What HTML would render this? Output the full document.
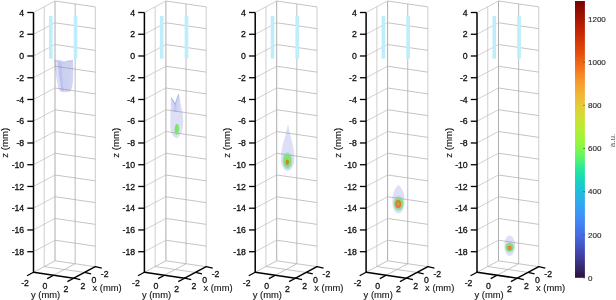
<!DOCTYPE html>
<html><head><meta charset="utf-8"><title>figure</title>
<style>
html,body{margin:0;padding:0;background:#fff;}
body{width:616px;height:300px;overflow:hidden;}
svg{display:block;font-family:"Liberation Sans",Arial,sans-serif;}
</style></head><body>
<svg width="616" height="300" viewBox="0 0 616 300">
<defs><linearGradient id="cb" x1="0" y1="1" x2="0" y2="0"><stop offset="0.0000" stop-color="rgb(46,17,57)"/><stop offset="0.0208" stop-color="rgb(51,29,85)"/><stop offset="0.0417" stop-color="rgb(56,43,117)"/><stop offset="0.0625" stop-color="rgb(59,54,140)"/><stop offset="0.0833" stop-color="rgb(63,67,166)"/><stop offset="0.1042" stop-color="rgb(65,78,184)"/><stop offset="0.1250" stop-color="rgb(67,91,204)"/><stop offset="0.1458" stop-color="rgb(68,104,220)"/><stop offset="0.1667" stop-color="rgb(68,114,230)"/><stop offset="0.1875" stop-color="rgb(67,126,240)"/><stop offset="0.2083" stop-color="rgb(66,136,245)"/><stop offset="0.2292" stop-color="rgb(61,148,246)"/><stop offset="0.2500" stop-color="rgb(56,158,244)"/><stop offset="0.2708" stop-color="rgb(47,170,237)"/><stop offset="0.2917" stop-color="rgb(40,179,230)"/><stop offset="0.3125" stop-color="rgb(32,190,219)"/><stop offset="0.3333" stop-color="rgb(25,203,203)"/><stop offset="0.3542" stop-color="rgb(23,215,186)"/><stop offset="0.3750" stop-color="rgb(29,225,169)"/><stop offset="0.3958" stop-color="rgb(42,232,153)"/><stop offset="0.4167" stop-color="rgb(68,240,127)"/><stop offset="0.4375" stop-color="rgb(94,244,104)"/><stop offset="0.4583" stop-color="rgb(120,246,83)"/><stop offset="0.4792" stop-color="rgb(141,246,68)"/><stop offset="0.5000" stop-color="rgb(159,244,57)"/><stop offset="0.5208" stop-color="rgb(171,241,52)"/><stop offset="0.5417" stop-color="rgb(184,236,50)"/><stop offset="0.5625" stop-color="rgb(199,228,50)"/><stop offset="0.5833" stop-color="rgb(210,220,52)"/><stop offset="0.6042" stop-color="rgb(220,212,54)"/><stop offset="0.6250" stop-color="rgb(230,200,56)"/><stop offset="0.6458" stop-color="rgb(237,190,56)"/><stop offset="0.6667" stop-color="rgb(242,180,54)"/><stop offset="0.6875" stop-color="rgb(245,166,50)"/><stop offset="0.7083" stop-color="rgb(246,153,45)"/><stop offset="0.7292" stop-color="rgb(245,139,39)"/><stop offset="0.7500" stop-color="rgb(243,121,31)"/><stop offset="0.7708" stop-color="rgb(239,107,25)"/><stop offset="0.7917" stop-color="rgb(234,93,19)"/><stop offset="0.8125" stop-color="rgb(227,77,13)"/><stop offset="0.8333" stop-color="rgb(220,66,9)"/><stop offset="0.8542" stop-color="rgb(212,56,7)"/><stop offset="0.8750" stop-color="rgb(201,45,4)"/><stop offset="0.8958" stop-color="rgb(191,37,2)"/><stop offset="0.9167" stop-color="rgb(179,29,1)"/><stop offset="0.9375" stop-color="rgb(164,20,1)"/><stop offset="0.9583" stop-color="rgb(150,14,1)"/><stop offset="0.9792" stop-color="rgb(135,8,1)"/><stop offset="1.0000" stop-color="rgb(118,3,2)"/></linearGradient>
<filter id="bl" x="-20%" y="-20%" width="140%" height="140%"><feGaussianBlur stdDeviation="0.45"/></filter>
</defs>
<rect width="616" height="300" fill="#fff"/>
<g>
<line x1="55.00" y1="260.80" x2="55.00" y2="1.00" stroke="#9e9e9e" stroke-width="0.85" />
<line x1="95.30" y1="266.70" x2="95.30" y2="6.90" stroke="#c6c6c6" stroke-width="0.9" />
<line x1="44.25" y1="266.55" x2="44.25" y2="6.75" stroke="#c6c6c6" stroke-width="0.85" />
<line x1="75.15" y1="263.75" x2="75.15" y2="3.95" stroke="#b0b0b0" stroke-width="0.85" />
<line x1="33.50" y1="251.71" x2="55.00" y2="240.21" stroke="#c0c0c0" stroke-width="0.75" />
<line x1="55.00" y1="240.21" x2="95.30" y2="246.11" stroke="#b0b0b0" stroke-width="0.75" />
<line x1="33.50" y1="229.96" x2="55.00" y2="218.46" stroke="#c0c0c0" stroke-width="0.75" />
<line x1="55.00" y1="218.46" x2="95.30" y2="224.36" stroke="#b0b0b0" stroke-width="0.75" />
<line x1="33.50" y1="208.21" x2="55.00" y2="196.71" stroke="#c0c0c0" stroke-width="0.75" />
<line x1="55.00" y1="196.71" x2="95.30" y2="202.61" stroke="#b0b0b0" stroke-width="0.75" />
<line x1="33.50" y1="186.47" x2="55.00" y2="174.97" stroke="#c0c0c0" stroke-width="0.75" />
<line x1="55.00" y1="174.97" x2="95.30" y2="180.87" stroke="#b0b0b0" stroke-width="0.75" />
<line x1="33.50" y1="164.72" x2="55.00" y2="153.22" stroke="#c0c0c0" stroke-width="0.75" />
<line x1="55.00" y1="153.22" x2="95.30" y2="159.12" stroke="#b0b0b0" stroke-width="0.75" />
<line x1="33.50" y1="142.98" x2="55.00" y2="131.48" stroke="#c0c0c0" stroke-width="0.75" />
<line x1="55.00" y1="131.48" x2="95.30" y2="137.38" stroke="#b0b0b0" stroke-width="0.75" />
<line x1="33.50" y1="121.23" x2="55.00" y2="109.73" stroke="#c0c0c0" stroke-width="0.75" />
<line x1="55.00" y1="109.73" x2="95.30" y2="115.63" stroke="#b0b0b0" stroke-width="0.75" />
<line x1="33.50" y1="99.48" x2="55.00" y2="87.98" stroke="#c0c0c0" stroke-width="0.75" />
<line x1="55.00" y1="87.98" x2="95.30" y2="93.88" stroke="#b0b0b0" stroke-width="0.75" />
<line x1="33.50" y1="77.74" x2="55.00" y2="66.24" stroke="#c0c0c0" stroke-width="0.75" />
<line x1="55.00" y1="66.24" x2="95.30" y2="72.14" stroke="#b0b0b0" stroke-width="0.75" />
<line x1="33.50" y1="55.99" x2="55.00" y2="44.49" stroke="#c0c0c0" stroke-width="0.75" />
<line x1="55.00" y1="44.49" x2="95.30" y2="50.39" stroke="#b0b0b0" stroke-width="0.75" />
<line x1="33.50" y1="34.25" x2="55.00" y2="22.75" stroke="#c0c0c0" stroke-width="0.75" />
<line x1="55.00" y1="22.75" x2="95.30" y2="28.65" stroke="#b0b0b0" stroke-width="0.75" />
<line x1="33.50" y1="12.50" x2="55.00" y2="1.00" stroke="#c0c0c0" stroke-width="0.75" />
<line x1="55.00" y1="1.00" x2="95.30" y2="6.90" stroke="#b0b0b0" stroke-width="0.75" />
<line x1="33.50" y1="272.30" x2="55.00" y2="260.80" stroke="#b0b0b0" stroke-width="0.75" />
<line x1="55.00" y1="260.80" x2="95.30" y2="266.70" stroke="#b0b0b0" stroke-width="0.75" />
<line x1="53.65" y1="275.25" x2="75.15" y2="263.75" stroke="#b0b0b0" stroke-width="0.75" />
<line x1="84.55" y1="272.45" x2="44.25" y2="266.55" stroke="#b0b0b0" stroke-width="0.75" />
</g>
<g>
<line x1="165.90" y1="260.80" x2="165.90" y2="1.00" stroke="#9e9e9e" stroke-width="0.85" />
<line x1="206.20" y1="266.70" x2="206.20" y2="6.90" stroke="#c6c6c6" stroke-width="0.9" />
<line x1="155.15" y1="266.55" x2="155.15" y2="6.75" stroke="#c6c6c6" stroke-width="0.85" />
<line x1="186.05" y1="263.75" x2="186.05" y2="3.95" stroke="#b0b0b0" stroke-width="0.85" />
<line x1="144.40" y1="251.71" x2="165.90" y2="240.21" stroke="#c0c0c0" stroke-width="0.75" />
<line x1="165.90" y1="240.21" x2="206.20" y2="246.11" stroke="#b0b0b0" stroke-width="0.75" />
<line x1="144.40" y1="229.96" x2="165.90" y2="218.46" stroke="#c0c0c0" stroke-width="0.75" />
<line x1="165.90" y1="218.46" x2="206.20" y2="224.36" stroke="#b0b0b0" stroke-width="0.75" />
<line x1="144.40" y1="208.21" x2="165.90" y2="196.71" stroke="#c0c0c0" stroke-width="0.75" />
<line x1="165.90" y1="196.71" x2="206.20" y2="202.61" stroke="#b0b0b0" stroke-width="0.75" />
<line x1="144.40" y1="186.47" x2="165.90" y2="174.97" stroke="#c0c0c0" stroke-width="0.75" />
<line x1="165.90" y1="174.97" x2="206.20" y2="180.87" stroke="#b0b0b0" stroke-width="0.75" />
<line x1="144.40" y1="164.72" x2="165.90" y2="153.22" stroke="#c0c0c0" stroke-width="0.75" />
<line x1="165.90" y1="153.22" x2="206.20" y2="159.12" stroke="#b0b0b0" stroke-width="0.75" />
<line x1="144.40" y1="142.98" x2="165.90" y2="131.48" stroke="#c0c0c0" stroke-width="0.75" />
<line x1="165.90" y1="131.48" x2="206.20" y2="137.38" stroke="#b0b0b0" stroke-width="0.75" />
<line x1="144.40" y1="121.23" x2="165.90" y2="109.73" stroke="#c0c0c0" stroke-width="0.75" />
<line x1="165.90" y1="109.73" x2="206.20" y2="115.63" stroke="#b0b0b0" stroke-width="0.75" />
<line x1="144.40" y1="99.48" x2="165.90" y2="87.98" stroke="#c0c0c0" stroke-width="0.75" />
<line x1="165.90" y1="87.98" x2="206.20" y2="93.88" stroke="#b0b0b0" stroke-width="0.75" />
<line x1="144.40" y1="77.74" x2="165.90" y2="66.24" stroke="#c0c0c0" stroke-width="0.75" />
<line x1="165.90" y1="66.24" x2="206.20" y2="72.14" stroke="#b0b0b0" stroke-width="0.75" />
<line x1="144.40" y1="55.99" x2="165.90" y2="44.49" stroke="#c0c0c0" stroke-width="0.75" />
<line x1="165.90" y1="44.49" x2="206.20" y2="50.39" stroke="#b0b0b0" stroke-width="0.75" />
<line x1="144.40" y1="34.25" x2="165.90" y2="22.75" stroke="#c0c0c0" stroke-width="0.75" />
<line x1="165.90" y1="22.75" x2="206.20" y2="28.65" stroke="#b0b0b0" stroke-width="0.75" />
<line x1="144.40" y1="12.50" x2="165.90" y2="1.00" stroke="#c0c0c0" stroke-width="0.75" />
<line x1="165.90" y1="1.00" x2="206.20" y2="6.90" stroke="#b0b0b0" stroke-width="0.75" />
<line x1="144.40" y1="272.30" x2="165.90" y2="260.80" stroke="#b0b0b0" stroke-width="0.75" />
<line x1="165.90" y1="260.80" x2="206.20" y2="266.70" stroke="#b0b0b0" stroke-width="0.75" />
<line x1="164.55" y1="275.25" x2="186.05" y2="263.75" stroke="#b0b0b0" stroke-width="0.75" />
<line x1="195.45" y1="272.45" x2="155.15" y2="266.55" stroke="#b0b0b0" stroke-width="0.75" />
</g>
<g>
<line x1="276.70" y1="260.80" x2="276.70" y2="1.00" stroke="#9e9e9e" stroke-width="0.85" />
<line x1="317.00" y1="266.70" x2="317.00" y2="6.90" stroke="#c6c6c6" stroke-width="0.9" />
<line x1="265.95" y1="266.55" x2="265.95" y2="6.75" stroke="#c6c6c6" stroke-width="0.85" />
<line x1="296.85" y1="263.75" x2="296.85" y2="3.95" stroke="#b0b0b0" stroke-width="0.85" />
<line x1="255.20" y1="251.71" x2="276.70" y2="240.21" stroke="#c0c0c0" stroke-width="0.75" />
<line x1="276.70" y1="240.21" x2="317.00" y2="246.11" stroke="#b0b0b0" stroke-width="0.75" />
<line x1="255.20" y1="229.96" x2="276.70" y2="218.46" stroke="#c0c0c0" stroke-width="0.75" />
<line x1="276.70" y1="218.46" x2="317.00" y2="224.36" stroke="#b0b0b0" stroke-width="0.75" />
<line x1="255.20" y1="208.21" x2="276.70" y2="196.71" stroke="#c0c0c0" stroke-width="0.75" />
<line x1="276.70" y1="196.71" x2="317.00" y2="202.61" stroke="#b0b0b0" stroke-width="0.75" />
<line x1="255.20" y1="186.47" x2="276.70" y2="174.97" stroke="#c0c0c0" stroke-width="0.75" />
<line x1="276.70" y1="174.97" x2="317.00" y2="180.87" stroke="#b0b0b0" stroke-width="0.75" />
<line x1="255.20" y1="164.72" x2="276.70" y2="153.22" stroke="#c0c0c0" stroke-width="0.75" />
<line x1="276.70" y1="153.22" x2="317.00" y2="159.12" stroke="#b0b0b0" stroke-width="0.75" />
<line x1="255.20" y1="142.98" x2="276.70" y2="131.48" stroke="#c0c0c0" stroke-width="0.75" />
<line x1="276.70" y1="131.48" x2="317.00" y2="137.38" stroke="#b0b0b0" stroke-width="0.75" />
<line x1="255.20" y1="121.23" x2="276.70" y2="109.73" stroke="#c0c0c0" stroke-width="0.75" />
<line x1="276.70" y1="109.73" x2="317.00" y2="115.63" stroke="#b0b0b0" stroke-width="0.75" />
<line x1="255.20" y1="99.48" x2="276.70" y2="87.98" stroke="#c0c0c0" stroke-width="0.75" />
<line x1="276.70" y1="87.98" x2="317.00" y2="93.88" stroke="#b0b0b0" stroke-width="0.75" />
<line x1="255.20" y1="77.74" x2="276.70" y2="66.24" stroke="#c0c0c0" stroke-width="0.75" />
<line x1="276.70" y1="66.24" x2="317.00" y2="72.14" stroke="#b0b0b0" stroke-width="0.75" />
<line x1="255.20" y1="55.99" x2="276.70" y2="44.49" stroke="#c0c0c0" stroke-width="0.75" />
<line x1="276.70" y1="44.49" x2="317.00" y2="50.39" stroke="#b0b0b0" stroke-width="0.75" />
<line x1="255.20" y1="34.25" x2="276.70" y2="22.75" stroke="#c0c0c0" stroke-width="0.75" />
<line x1="276.70" y1="22.75" x2="317.00" y2="28.65" stroke="#b0b0b0" stroke-width="0.75" />
<line x1="255.20" y1="12.50" x2="276.70" y2="1.00" stroke="#c0c0c0" stroke-width="0.75" />
<line x1="276.70" y1="1.00" x2="317.00" y2="6.90" stroke="#b0b0b0" stroke-width="0.75" />
<line x1="255.20" y1="272.30" x2="276.70" y2="260.80" stroke="#b0b0b0" stroke-width="0.75" />
<line x1="276.70" y1="260.80" x2="317.00" y2="266.70" stroke="#b0b0b0" stroke-width="0.75" />
<line x1="275.35" y1="275.25" x2="296.85" y2="263.75" stroke="#b0b0b0" stroke-width="0.75" />
<line x1="306.25" y1="272.45" x2="265.95" y2="266.55" stroke="#b0b0b0" stroke-width="0.75" />
</g>
<g>
<line x1="387.60" y1="260.80" x2="387.60" y2="1.00" stroke="#9e9e9e" stroke-width="0.85" />
<line x1="427.90" y1="266.70" x2="427.90" y2="6.90" stroke="#c6c6c6" stroke-width="0.9" />
<line x1="376.85" y1="266.55" x2="376.85" y2="6.75" stroke="#c6c6c6" stroke-width="0.85" />
<line x1="407.75" y1="263.75" x2="407.75" y2="3.95" stroke="#b0b0b0" stroke-width="0.85" />
<line x1="366.10" y1="251.71" x2="387.60" y2="240.21" stroke="#c0c0c0" stroke-width="0.75" />
<line x1="387.60" y1="240.21" x2="427.90" y2="246.11" stroke="#b0b0b0" stroke-width="0.75" />
<line x1="366.10" y1="229.96" x2="387.60" y2="218.46" stroke="#c0c0c0" stroke-width="0.75" />
<line x1="387.60" y1="218.46" x2="427.90" y2="224.36" stroke="#b0b0b0" stroke-width="0.75" />
<line x1="366.10" y1="208.21" x2="387.60" y2="196.71" stroke="#c0c0c0" stroke-width="0.75" />
<line x1="387.60" y1="196.71" x2="427.90" y2="202.61" stroke="#b0b0b0" stroke-width="0.75" />
<line x1="366.10" y1="186.47" x2="387.60" y2="174.97" stroke="#c0c0c0" stroke-width="0.75" />
<line x1="387.60" y1="174.97" x2="427.90" y2="180.87" stroke="#b0b0b0" stroke-width="0.75" />
<line x1="366.10" y1="164.72" x2="387.60" y2="153.22" stroke="#c0c0c0" stroke-width="0.75" />
<line x1="387.60" y1="153.22" x2="427.90" y2="159.12" stroke="#b0b0b0" stroke-width="0.75" />
<line x1="366.10" y1="142.98" x2="387.60" y2="131.48" stroke="#c0c0c0" stroke-width="0.75" />
<line x1="387.60" y1="131.48" x2="427.90" y2="137.38" stroke="#b0b0b0" stroke-width="0.75" />
<line x1="366.10" y1="121.23" x2="387.60" y2="109.73" stroke="#c0c0c0" stroke-width="0.75" />
<line x1="387.60" y1="109.73" x2="427.90" y2="115.63" stroke="#b0b0b0" stroke-width="0.75" />
<line x1="366.10" y1="99.48" x2="387.60" y2="87.98" stroke="#c0c0c0" stroke-width="0.75" />
<line x1="387.60" y1="87.98" x2="427.90" y2="93.88" stroke="#b0b0b0" stroke-width="0.75" />
<line x1="366.10" y1="77.74" x2="387.60" y2="66.24" stroke="#c0c0c0" stroke-width="0.75" />
<line x1="387.60" y1="66.24" x2="427.90" y2="72.14" stroke="#b0b0b0" stroke-width="0.75" />
<line x1="366.10" y1="55.99" x2="387.60" y2="44.49" stroke="#c0c0c0" stroke-width="0.75" />
<line x1="387.60" y1="44.49" x2="427.90" y2="50.39" stroke="#b0b0b0" stroke-width="0.75" />
<line x1="366.10" y1="34.25" x2="387.60" y2="22.75" stroke="#c0c0c0" stroke-width="0.75" />
<line x1="387.60" y1="22.75" x2="427.90" y2="28.65" stroke="#b0b0b0" stroke-width="0.75" />
<line x1="366.10" y1="12.50" x2="387.60" y2="1.00" stroke="#c0c0c0" stroke-width="0.75" />
<line x1="387.60" y1="1.00" x2="427.90" y2="6.90" stroke="#b0b0b0" stroke-width="0.75" />
<line x1="366.10" y1="272.30" x2="387.60" y2="260.80" stroke="#b0b0b0" stroke-width="0.75" />
<line x1="387.60" y1="260.80" x2="427.90" y2="266.70" stroke="#b0b0b0" stroke-width="0.75" />
<line x1="386.25" y1="275.25" x2="407.75" y2="263.75" stroke="#b0b0b0" stroke-width="0.75" />
<line x1="417.15" y1="272.45" x2="376.85" y2="266.55" stroke="#b0b0b0" stroke-width="0.75" />
</g>
<g>
<line x1="498.50" y1="260.80" x2="498.50" y2="1.00" stroke="#9e9e9e" stroke-width="0.85" />
<line x1="538.80" y1="266.70" x2="538.80" y2="6.90" stroke="#c6c6c6" stroke-width="0.9" />
<line x1="487.75" y1="266.55" x2="487.75" y2="6.75" stroke="#c6c6c6" stroke-width="0.85" />
<line x1="518.65" y1="263.75" x2="518.65" y2="3.95" stroke="#b0b0b0" stroke-width="0.85" />
<line x1="477.00" y1="251.71" x2="498.50" y2="240.21" stroke="#c0c0c0" stroke-width="0.75" />
<line x1="498.50" y1="240.21" x2="538.80" y2="246.11" stroke="#b0b0b0" stroke-width="0.75" />
<line x1="477.00" y1="229.96" x2="498.50" y2="218.46" stroke="#c0c0c0" stroke-width="0.75" />
<line x1="498.50" y1="218.46" x2="538.80" y2="224.36" stroke="#b0b0b0" stroke-width="0.75" />
<line x1="477.00" y1="208.21" x2="498.50" y2="196.71" stroke="#c0c0c0" stroke-width="0.75" />
<line x1="498.50" y1="196.71" x2="538.80" y2="202.61" stroke="#b0b0b0" stroke-width="0.75" />
<line x1="477.00" y1="186.47" x2="498.50" y2="174.97" stroke="#c0c0c0" stroke-width="0.75" />
<line x1="498.50" y1="174.97" x2="538.80" y2="180.87" stroke="#b0b0b0" stroke-width="0.75" />
<line x1="477.00" y1="164.72" x2="498.50" y2="153.22" stroke="#c0c0c0" stroke-width="0.75" />
<line x1="498.50" y1="153.22" x2="538.80" y2="159.12" stroke="#b0b0b0" stroke-width="0.75" />
<line x1="477.00" y1="142.98" x2="498.50" y2="131.48" stroke="#c0c0c0" stroke-width="0.75" />
<line x1="498.50" y1="131.48" x2="538.80" y2="137.38" stroke="#b0b0b0" stroke-width="0.75" />
<line x1="477.00" y1="121.23" x2="498.50" y2="109.73" stroke="#c0c0c0" stroke-width="0.75" />
<line x1="498.50" y1="109.73" x2="538.80" y2="115.63" stroke="#b0b0b0" stroke-width="0.75" />
<line x1="477.00" y1="99.48" x2="498.50" y2="87.98" stroke="#c0c0c0" stroke-width="0.75" />
<line x1="498.50" y1="87.98" x2="538.80" y2="93.88" stroke="#b0b0b0" stroke-width="0.75" />
<line x1="477.00" y1="77.74" x2="498.50" y2="66.24" stroke="#c0c0c0" stroke-width="0.75" />
<line x1="498.50" y1="66.24" x2="538.80" y2="72.14" stroke="#b0b0b0" stroke-width="0.75" />
<line x1="477.00" y1="55.99" x2="498.50" y2="44.49" stroke="#c0c0c0" stroke-width="0.75" />
<line x1="498.50" y1="44.49" x2="538.80" y2="50.39" stroke="#b0b0b0" stroke-width="0.75" />
<line x1="477.00" y1="34.25" x2="498.50" y2="22.75" stroke="#c0c0c0" stroke-width="0.75" />
<line x1="498.50" y1="22.75" x2="538.80" y2="28.65" stroke="#b0b0b0" stroke-width="0.75" />
<line x1="477.00" y1="12.50" x2="498.50" y2="1.00" stroke="#c0c0c0" stroke-width="0.75" />
<line x1="498.50" y1="1.00" x2="538.80" y2="6.90" stroke="#b0b0b0" stroke-width="0.75" />
<line x1="477.00" y1="272.30" x2="498.50" y2="260.80" stroke="#b0b0b0" stroke-width="0.75" />
<line x1="498.50" y1="260.80" x2="538.80" y2="266.70" stroke="#b0b0b0" stroke-width="0.75" />
<line x1="497.15" y1="275.25" x2="518.65" y2="263.75" stroke="#b0b0b0" stroke-width="0.75" />
<line x1="528.05" y1="272.45" x2="487.75" y2="266.55" stroke="#b0b0b0" stroke-width="0.75" />
</g>
<rect x="49.0" y="16" width="3.6" height="42.6" fill="#bdeefa"/>
<rect x="73.7" y="16" width="3.7" height="42.6" fill="#bdeefa"/>
<rect x="159.9" y="16" width="3.6" height="42.6" fill="#bdeefa"/>
<rect x="184.6" y="16" width="3.7" height="42.6" fill="#bdeefa"/>
<rect x="270.7" y="16" width="3.6" height="42.6" fill="#bdeefa"/>
<rect x="295.4" y="16" width="3.7" height="42.6" fill="#bdeefa"/>
<rect x="381.6" y="16" width="3.6" height="42.6" fill="#bdeefa"/>
<rect x="406.3" y="16" width="3.7" height="42.6" fill="#bdeefa"/>
<rect x="492.5" y="16" width="3.6" height="42.6" fill="#bdeefa"/>
<rect x="517.2" y="16" width="3.7" height="42.6" fill="#bdeefa"/>
<g filter="url(#bl)">
<!-- panel 1 -->
<path d="M54.9,59.9 Q58,61 60,60.5 Q64,63 68,60.5 Q70.5,61 72.8,60.1 Q73.2,68 72.8,76 Q72.6,84 71.6,87.5 Q71,90 70.2,91.2 Q65,92.4 60.4,91.2 Q59,89 58.4,87 Q57.2,81 56.5,75.5 Q55.3,67 54.9,59.9 Z" fill="#6a78d8" fill-opacity="0.23" stroke="#6a78d8" stroke-opacity="0.16" stroke-width="1"/>
<path d="M58,61.3 Q64.3,64.2 70.8,61.3 Q70.6,76 68.7,90.7 Q65,91.6 61.6,90.7 Q59,76 58,61.3 Z" fill="#6a78d8" fill-opacity="0.15"/>
<path d="M57.6,61.2 Q59.5,62.3 61.8,62.8 Q62,78 63.6,90.9 Q62,91 60.7,90.6 Q58.4,76 57.6,61.2 Z" fill="#6a78d8" fill-opacity="0.16"/>
<path d="M70.6,61.4 Q71.8,61 72.5,60.6 Q72.8,72 72.2,82 Q71.5,88 70,90.8 Q69.4,90.9 68.9,90.9 Q70.6,76 70.6,61.4 Z" fill="#6a78d8" fill-opacity="0.10"/>
<path d="M55.6,60.6 Q58,61.6 60,61.2 Q64,64 68,61.2 Q70.5,61.6 72.4,60.7" fill="none" stroke="#6a78d8" stroke-opacity="0.28" stroke-width="0.9"/>
<!-- panel 2 -->
<path d="M170.9,97 Q173,99.5 175.2,103 Q177,98 178.7,93.4 Q180,98 180.5,103 Q183.2,112 183.3,122 Q183.2,134 177,138.6 Q171.3,137.5 170.3,127 Q170.4,112 170.9,97 Z" fill="#6a78d8" fill-opacity="0.24"/>
<path d="M171.2,97.2 L175.2,104 L178.7,93.6 Q180.2,100 179.6,110 Q176,112 172.2,110 Q171.3,104 171.2,97.2 Z" fill="#6a78d8" fill-opacity="0.10"/>
<path d="M171.3,97.6 L175.1,104.2 L178.6,94.2" fill="none" stroke="#6a78d8" stroke-opacity="0.30" stroke-width="1.3" stroke-linejoin="round"/>
<path d="M174.2,103 L176.2,103 L176.6,112 L173.8,112 Z" fill="#6a78d8" fill-opacity="0.14"/>
<ellipse cx="176.8" cy="129.3" rx="2.3" ry="5.6" fill="#80e474" transform="rotate(4 176.8 129.3)"/>
<!-- panel 3 -->
<path d="M288,124 C289,128 289.6,132 290.5,136 C292,142 294.3,150 294.4,158 C294.5,165 291.5,170.8 287.6,171 C283.7,170.8 280.8,165 280.9,158 C281,150 283.5,142 285.3,136 C286.3,132 287,128 288,124 Z" fill="#6a78d8" fill-opacity="0.24"/>
<ellipse cx="287.4" cy="160.6" rx="5.0" ry="8.6" fill="#6a78d8" fill-opacity="0.18"/>
<ellipse cx="287.4" cy="160.7" rx="4.0" ry="7.3" fill="#80e474"/>
<ellipse cx="287.3" cy="162.3" rx="1.7" ry="2.7" fill="#cd8428"/>
<!-- panel 4 -->
<path d="M398.5,185 C401,187 403.5,191 404.3,196 C405.2,203 404,208 402.5,210.5 C401,213 399.5,213.3 398.4,213.3 C397.3,213.3 395.8,213 394.3,210.5 C392.8,208 391.8,203 392.7,196 C393.5,191 396,187 398.5,185 Z" fill="#6a78d8" fill-opacity="0.24"/>
<ellipse cx="398.6" cy="203.4" rx="5.2" ry="7.6" fill="#6a78d8" fill-opacity="0.18"/>
<ellipse cx="398.6" cy="203.4" rx="4.4" ry="6.4" fill="#80e474"/>
<ellipse cx="398.2" cy="204.0" rx="2.9" ry="3.9" fill="#e2762f"/>
<ellipse cx="398.2" cy="204.0" rx="1.6" ry="2.2" fill="#c89a58"/>
<!-- panel 5 -->
<ellipse cx="509.7" cy="245.8" rx="5.4" ry="10.3" fill="#6a78d8" fill-opacity="0.24"/>
<ellipse cx="509.6" cy="247.3" rx="4.5" ry="5.2" fill="#6a78d8" fill-opacity="0.18"/>
<ellipse cx="509.6" cy="247.3" rx="3.8" ry="4.2" fill="#80e474"/>
<ellipse cx="509.6" cy="248.0" rx="2.1" ry="2.2" fill="#e2762f"/>
<ellipse cx="509.6" cy="248.0" rx="1.1" ry="1.2" fill="#c89a58"/>
</g>

<g stroke-linecap="butt">
<line x1="33.50" y1="12.50" x2="33.50" y2="273.00" stroke="#000" stroke-width="1.5" />
<line x1="33.50" y1="272.30" x2="73.80" y2="278.20" stroke="#000" stroke-width="1.5" stroke-linecap="round"/>
<line x1="73.80" y1="278.20" x2="95.30" y2="266.70" stroke="#000" stroke-width="1.5" stroke-linecap="round"/>
<line x1="27.30" y1="251.71" x2="33.50" y2="251.71" stroke="#000" stroke-width="1.3" />
<text x="24.20" y="254.81" font-size="8.7" text-anchor="end" fill="#111" stroke="#111" stroke-width="0.3" >-18</text>
<line x1="27.30" y1="229.96" x2="33.50" y2="229.96" stroke="#000" stroke-width="1.3" />
<text x="24.20" y="233.06" font-size="8.7" text-anchor="end" fill="#111" stroke="#111" stroke-width="0.3" >-16</text>
<line x1="27.30" y1="208.21" x2="33.50" y2="208.21" stroke="#000" stroke-width="1.3" />
<text x="24.20" y="211.31" font-size="8.7" text-anchor="end" fill="#111" stroke="#111" stroke-width="0.3" >-14</text>
<line x1="27.30" y1="186.47" x2="33.50" y2="186.47" stroke="#000" stroke-width="1.3" />
<text x="24.20" y="189.57" font-size="8.7" text-anchor="end" fill="#111" stroke="#111" stroke-width="0.3" >-12</text>
<line x1="27.30" y1="164.72" x2="33.50" y2="164.72" stroke="#000" stroke-width="1.3" />
<text x="24.20" y="167.82" font-size="8.7" text-anchor="end" fill="#111" stroke="#111" stroke-width="0.3" >-10</text>
<line x1="27.30" y1="142.98" x2="33.50" y2="142.98" stroke="#000" stroke-width="1.3" />
<text x="24.20" y="146.08" font-size="8.7" text-anchor="end" fill="#111" stroke="#111" stroke-width="0.3" >-8</text>
<line x1="27.30" y1="121.23" x2="33.50" y2="121.23" stroke="#000" stroke-width="1.3" />
<text x="24.20" y="124.33" font-size="8.7" text-anchor="end" fill="#111" stroke="#111" stroke-width="0.3" >-6</text>
<line x1="27.30" y1="99.48" x2="33.50" y2="99.48" stroke="#000" stroke-width="1.3" />
<text x="24.20" y="102.58" font-size="8.7" text-anchor="end" fill="#111" stroke="#111" stroke-width="0.3" >-4</text>
<line x1="27.30" y1="77.74" x2="33.50" y2="77.74" stroke="#000" stroke-width="1.3" />
<text x="24.20" y="80.84" font-size="8.7" text-anchor="end" fill="#111" stroke="#111" stroke-width="0.3" >-2</text>
<line x1="27.30" y1="55.99" x2="33.50" y2="55.99" stroke="#000" stroke-width="1.3" />
<text x="24.20" y="59.09" font-size="8.7" text-anchor="end" fill="#111" stroke="#111" stroke-width="0.3" >0</text>
<line x1="27.30" y1="34.25" x2="33.50" y2="34.25" stroke="#000" stroke-width="1.3" />
<text x="24.20" y="37.35" font-size="8.7" text-anchor="end" fill="#111" stroke="#111" stroke-width="0.3" >2</text>
<line x1="27.30" y1="12.50" x2="33.50" y2="12.50" stroke="#000" stroke-width="1.3" />
<text x="24.20" y="15.60" font-size="8.7" text-anchor="end" fill="#111" stroke="#111" stroke-width="0.3" >4</text>
<line x1="33.50" y1="272.30" x2="27.06" y2="275.74" stroke="#000" stroke-width="1.3" />
<line x1="53.65" y1="275.25" x2="47.21" y2="278.69" stroke="#000" stroke-width="1.3" />
<line x1="73.80" y1="278.20" x2="67.36" y2="281.64" stroke="#000" stroke-width="1.3" />
<line x1="73.80" y1="278.20" x2="80.33" y2="279.56" stroke="#000" stroke-width="1.3" />
<line x1="84.55" y1="272.45" x2="91.08" y2="273.81" stroke="#000" stroke-width="1.3" />
<line x1="95.30" y1="266.70" x2="101.83" y2="268.06" stroke="#000" stroke-width="1.3" />
</g>
<text x="25.00" y="286.00" font-size="8.7" text-anchor="middle" fill="#111" stroke="#111" stroke-width="0.3" >-2</text>
<text x="45.00" y="289.00" font-size="8.7" text-anchor="middle" fill="#111" stroke="#111" stroke-width="0.3" >0</text>
<text x="65.80" y="292.20" font-size="8.7" text-anchor="middle" fill="#111" stroke="#111" stroke-width="0.3" >2</text>
<text x="83.00" y="289.00" font-size="8.7" text-anchor="middle" fill="#111" stroke="#111" stroke-width="0.3" >2</text>
<text x="93.80" y="283.20" font-size="8.7" text-anchor="middle" fill="#111" stroke="#111" stroke-width="0.3" >0</text>
<text x="104.70" y="277.30" font-size="8.7" text-anchor="middle" fill="#111" stroke="#111" stroke-width="0.3" >-2</text>
<text x="45.60" y="297.80" font-size="9.4" text-anchor="middle" fill="#111" stroke="#111" stroke-width="0.12" >y (mm)</text>
<text x="107.10" y="291.20" font-size="9.4" text-anchor="middle" fill="#111" stroke="#111" stroke-width="0.12" >x (mm)</text>
<text transform="translate(8.0,142.8) rotate(-90)" font-size="9.6" text-anchor="middle" fill="#111" stroke="#111" stroke-width="0.12">z (mm)</text>
<g stroke-linecap="butt">
<line x1="144.40" y1="12.50" x2="144.40" y2="273.00" stroke="#000" stroke-width="1.5" />
<line x1="144.40" y1="272.30" x2="184.70" y2="278.20" stroke="#000" stroke-width="1.5" stroke-linecap="round"/>
<line x1="184.70" y1="278.20" x2="206.20" y2="266.70" stroke="#000" stroke-width="1.5" stroke-linecap="round"/>
<line x1="138.20" y1="251.71" x2="144.40" y2="251.71" stroke="#000" stroke-width="1.3" />
<text x="135.10" y="254.81" font-size="8.7" text-anchor="end" fill="#111" stroke="#111" stroke-width="0.3" >-18</text>
<line x1="138.20" y1="229.96" x2="144.40" y2="229.96" stroke="#000" stroke-width="1.3" />
<text x="135.10" y="233.06" font-size="8.7" text-anchor="end" fill="#111" stroke="#111" stroke-width="0.3" >-16</text>
<line x1="138.20" y1="208.21" x2="144.40" y2="208.21" stroke="#000" stroke-width="1.3" />
<text x="135.10" y="211.31" font-size="8.7" text-anchor="end" fill="#111" stroke="#111" stroke-width="0.3" >-14</text>
<line x1="138.20" y1="186.47" x2="144.40" y2="186.47" stroke="#000" stroke-width="1.3" />
<text x="135.10" y="189.57" font-size="8.7" text-anchor="end" fill="#111" stroke="#111" stroke-width="0.3" >-12</text>
<line x1="138.20" y1="164.72" x2="144.40" y2="164.72" stroke="#000" stroke-width="1.3" />
<text x="135.10" y="167.82" font-size="8.7" text-anchor="end" fill="#111" stroke="#111" stroke-width="0.3" >-10</text>
<line x1="138.20" y1="142.98" x2="144.40" y2="142.98" stroke="#000" stroke-width="1.3" />
<text x="135.10" y="146.08" font-size="8.7" text-anchor="end" fill="#111" stroke="#111" stroke-width="0.3" >-8</text>
<line x1="138.20" y1="121.23" x2="144.40" y2="121.23" stroke="#000" stroke-width="1.3" />
<text x="135.10" y="124.33" font-size="8.7" text-anchor="end" fill="#111" stroke="#111" stroke-width="0.3" >-6</text>
<line x1="138.20" y1="99.48" x2="144.40" y2="99.48" stroke="#000" stroke-width="1.3" />
<text x="135.10" y="102.58" font-size="8.7" text-anchor="end" fill="#111" stroke="#111" stroke-width="0.3" >-4</text>
<line x1="138.20" y1="77.74" x2="144.40" y2="77.74" stroke="#000" stroke-width="1.3" />
<text x="135.10" y="80.84" font-size="8.7" text-anchor="end" fill="#111" stroke="#111" stroke-width="0.3" >-2</text>
<line x1="138.20" y1="55.99" x2="144.40" y2="55.99" stroke="#000" stroke-width="1.3" />
<text x="135.10" y="59.09" font-size="8.7" text-anchor="end" fill="#111" stroke="#111" stroke-width="0.3" >0</text>
<line x1="138.20" y1="34.25" x2="144.40" y2="34.25" stroke="#000" stroke-width="1.3" />
<text x="135.10" y="37.35" font-size="8.7" text-anchor="end" fill="#111" stroke="#111" stroke-width="0.3" >2</text>
<line x1="138.20" y1="12.50" x2="144.40" y2="12.50" stroke="#000" stroke-width="1.3" />
<text x="135.10" y="15.60" font-size="8.7" text-anchor="end" fill="#111" stroke="#111" stroke-width="0.3" >4</text>
<line x1="144.40" y1="272.30" x2="137.96" y2="275.74" stroke="#000" stroke-width="1.3" />
<line x1="164.55" y1="275.25" x2="158.11" y2="278.69" stroke="#000" stroke-width="1.3" />
<line x1="184.70" y1="278.20" x2="178.26" y2="281.64" stroke="#000" stroke-width="1.3" />
<line x1="184.70" y1="278.20" x2="191.23" y2="279.56" stroke="#000" stroke-width="1.3" />
<line x1="195.45" y1="272.45" x2="201.98" y2="273.81" stroke="#000" stroke-width="1.3" />
<line x1="206.20" y1="266.70" x2="212.73" y2="268.06" stroke="#000" stroke-width="1.3" />
</g>
<text x="135.90" y="286.00" font-size="8.7" text-anchor="middle" fill="#111" stroke="#111" stroke-width="0.3" >-2</text>
<text x="155.90" y="289.00" font-size="8.7" text-anchor="middle" fill="#111" stroke="#111" stroke-width="0.3" >0</text>
<text x="176.70" y="292.20" font-size="8.7" text-anchor="middle" fill="#111" stroke="#111" stroke-width="0.3" >2</text>
<text x="193.90" y="289.00" font-size="8.7" text-anchor="middle" fill="#111" stroke="#111" stroke-width="0.3" >2</text>
<text x="204.70" y="283.20" font-size="8.7" text-anchor="middle" fill="#111" stroke="#111" stroke-width="0.3" >0</text>
<text x="215.60" y="277.30" font-size="8.7" text-anchor="middle" fill="#111" stroke="#111" stroke-width="0.3" >-2</text>
<text x="156.50" y="297.80" font-size="9.4" text-anchor="middle" fill="#111" stroke="#111" stroke-width="0.12" >y (mm)</text>
<text x="218.00" y="291.20" font-size="9.4" text-anchor="middle" fill="#111" stroke="#111" stroke-width="0.12" >x (mm)</text>
<text transform="translate(118.9,142.8) rotate(-90)" font-size="9.6" text-anchor="middle" fill="#111" stroke="#111" stroke-width="0.12">z (mm)</text>
<g stroke-linecap="butt">
<line x1="255.20" y1="12.50" x2="255.20" y2="273.00" stroke="#000" stroke-width="1.5" />
<line x1="255.20" y1="272.30" x2="295.50" y2="278.20" stroke="#000" stroke-width="1.5" stroke-linecap="round"/>
<line x1="295.50" y1="278.20" x2="317.00" y2="266.70" stroke="#000" stroke-width="1.5" stroke-linecap="round"/>
<line x1="249.00" y1="251.71" x2="255.20" y2="251.71" stroke="#000" stroke-width="1.3" />
<text x="245.90" y="254.81" font-size="8.7" text-anchor="end" fill="#111" stroke="#111" stroke-width="0.3" >-18</text>
<line x1="249.00" y1="229.96" x2="255.20" y2="229.96" stroke="#000" stroke-width="1.3" />
<text x="245.90" y="233.06" font-size="8.7" text-anchor="end" fill="#111" stroke="#111" stroke-width="0.3" >-16</text>
<line x1="249.00" y1="208.21" x2="255.20" y2="208.21" stroke="#000" stroke-width="1.3" />
<text x="245.90" y="211.31" font-size="8.7" text-anchor="end" fill="#111" stroke="#111" stroke-width="0.3" >-14</text>
<line x1="249.00" y1="186.47" x2="255.20" y2="186.47" stroke="#000" stroke-width="1.3" />
<text x="245.90" y="189.57" font-size="8.7" text-anchor="end" fill="#111" stroke="#111" stroke-width="0.3" >-12</text>
<line x1="249.00" y1="164.72" x2="255.20" y2="164.72" stroke="#000" stroke-width="1.3" />
<text x="245.90" y="167.82" font-size="8.7" text-anchor="end" fill="#111" stroke="#111" stroke-width="0.3" >-10</text>
<line x1="249.00" y1="142.98" x2="255.20" y2="142.98" stroke="#000" stroke-width="1.3" />
<text x="245.90" y="146.08" font-size="8.7" text-anchor="end" fill="#111" stroke="#111" stroke-width="0.3" >-8</text>
<line x1="249.00" y1="121.23" x2="255.20" y2="121.23" stroke="#000" stroke-width="1.3" />
<text x="245.90" y="124.33" font-size="8.7" text-anchor="end" fill="#111" stroke="#111" stroke-width="0.3" >-6</text>
<line x1="249.00" y1="99.48" x2="255.20" y2="99.48" stroke="#000" stroke-width="1.3" />
<text x="245.90" y="102.58" font-size="8.7" text-anchor="end" fill="#111" stroke="#111" stroke-width="0.3" >-4</text>
<line x1="249.00" y1="77.74" x2="255.20" y2="77.74" stroke="#000" stroke-width="1.3" />
<text x="245.90" y="80.84" font-size="8.7" text-anchor="end" fill="#111" stroke="#111" stroke-width="0.3" >-2</text>
<line x1="249.00" y1="55.99" x2="255.20" y2="55.99" stroke="#000" stroke-width="1.3" />
<text x="245.90" y="59.09" font-size="8.7" text-anchor="end" fill="#111" stroke="#111" stroke-width="0.3" >0</text>
<line x1="249.00" y1="34.25" x2="255.20" y2="34.25" stroke="#000" stroke-width="1.3" />
<text x="245.90" y="37.35" font-size="8.7" text-anchor="end" fill="#111" stroke="#111" stroke-width="0.3" >2</text>
<line x1="249.00" y1="12.50" x2="255.20" y2="12.50" stroke="#000" stroke-width="1.3" />
<text x="245.90" y="15.60" font-size="8.7" text-anchor="end" fill="#111" stroke="#111" stroke-width="0.3" >4</text>
<line x1="255.20" y1="272.30" x2="248.76" y2="275.74" stroke="#000" stroke-width="1.3" />
<line x1="275.35" y1="275.25" x2="268.91" y2="278.69" stroke="#000" stroke-width="1.3" />
<line x1="295.50" y1="278.20" x2="289.06" y2="281.64" stroke="#000" stroke-width="1.3" />
<line x1="295.50" y1="278.20" x2="302.03" y2="279.56" stroke="#000" stroke-width="1.3" />
<line x1="306.25" y1="272.45" x2="312.78" y2="273.81" stroke="#000" stroke-width="1.3" />
<line x1="317.00" y1="266.70" x2="323.53" y2="268.06" stroke="#000" stroke-width="1.3" />
</g>
<text x="246.70" y="286.00" font-size="8.7" text-anchor="middle" fill="#111" stroke="#111" stroke-width="0.3" >-2</text>
<text x="266.70" y="289.00" font-size="8.7" text-anchor="middle" fill="#111" stroke="#111" stroke-width="0.3" >0</text>
<text x="287.50" y="292.20" font-size="8.7" text-anchor="middle" fill="#111" stroke="#111" stroke-width="0.3" >2</text>
<text x="304.70" y="289.00" font-size="8.7" text-anchor="middle" fill="#111" stroke="#111" stroke-width="0.3" >2</text>
<text x="315.50" y="283.20" font-size="8.7" text-anchor="middle" fill="#111" stroke="#111" stroke-width="0.3" >0</text>
<text x="326.40" y="277.30" font-size="8.7" text-anchor="middle" fill="#111" stroke="#111" stroke-width="0.3" >-2</text>
<text x="267.30" y="297.80" font-size="9.4" text-anchor="middle" fill="#111" stroke="#111" stroke-width="0.12" >y (mm)</text>
<text x="328.80" y="291.20" font-size="9.4" text-anchor="middle" fill="#111" stroke="#111" stroke-width="0.12" >x (mm)</text>
<text transform="translate(229.7,142.8) rotate(-90)" font-size="9.6" text-anchor="middle" fill="#111" stroke="#111" stroke-width="0.12">z (mm)</text>
<g stroke-linecap="butt">
<line x1="366.10" y1="12.50" x2="366.10" y2="273.00" stroke="#000" stroke-width="1.5" />
<line x1="366.10" y1="272.30" x2="406.40" y2="278.20" stroke="#000" stroke-width="1.5" stroke-linecap="round"/>
<line x1="406.40" y1="278.20" x2="427.90" y2="266.70" stroke="#000" stroke-width="1.5" stroke-linecap="round"/>
<line x1="359.90" y1="251.71" x2="366.10" y2="251.71" stroke="#000" stroke-width="1.3" />
<text x="356.80" y="254.81" font-size="8.7" text-anchor="end" fill="#111" stroke="#111" stroke-width="0.3" >-18</text>
<line x1="359.90" y1="229.96" x2="366.10" y2="229.96" stroke="#000" stroke-width="1.3" />
<text x="356.80" y="233.06" font-size="8.7" text-anchor="end" fill="#111" stroke="#111" stroke-width="0.3" >-16</text>
<line x1="359.90" y1="208.21" x2="366.10" y2="208.21" stroke="#000" stroke-width="1.3" />
<text x="356.80" y="211.31" font-size="8.7" text-anchor="end" fill="#111" stroke="#111" stroke-width="0.3" >-14</text>
<line x1="359.90" y1="186.47" x2="366.10" y2="186.47" stroke="#000" stroke-width="1.3" />
<text x="356.80" y="189.57" font-size="8.7" text-anchor="end" fill="#111" stroke="#111" stroke-width="0.3" >-12</text>
<line x1="359.90" y1="164.72" x2="366.10" y2="164.72" stroke="#000" stroke-width="1.3" />
<text x="356.80" y="167.82" font-size="8.7" text-anchor="end" fill="#111" stroke="#111" stroke-width="0.3" >-10</text>
<line x1="359.90" y1="142.98" x2="366.10" y2="142.98" stroke="#000" stroke-width="1.3" />
<text x="356.80" y="146.08" font-size="8.7" text-anchor="end" fill="#111" stroke="#111" stroke-width="0.3" >-8</text>
<line x1="359.90" y1="121.23" x2="366.10" y2="121.23" stroke="#000" stroke-width="1.3" />
<text x="356.80" y="124.33" font-size="8.7" text-anchor="end" fill="#111" stroke="#111" stroke-width="0.3" >-6</text>
<line x1="359.90" y1="99.48" x2="366.10" y2="99.48" stroke="#000" stroke-width="1.3" />
<text x="356.80" y="102.58" font-size="8.7" text-anchor="end" fill="#111" stroke="#111" stroke-width="0.3" >-4</text>
<line x1="359.90" y1="77.74" x2="366.10" y2="77.74" stroke="#000" stroke-width="1.3" />
<text x="356.80" y="80.84" font-size="8.7" text-anchor="end" fill="#111" stroke="#111" stroke-width="0.3" >-2</text>
<line x1="359.90" y1="55.99" x2="366.10" y2="55.99" stroke="#000" stroke-width="1.3" />
<text x="356.80" y="59.09" font-size="8.7" text-anchor="end" fill="#111" stroke="#111" stroke-width="0.3" >0</text>
<line x1="359.90" y1="34.25" x2="366.10" y2="34.25" stroke="#000" stroke-width="1.3" />
<text x="356.80" y="37.35" font-size="8.7" text-anchor="end" fill="#111" stroke="#111" stroke-width="0.3" >2</text>
<line x1="359.90" y1="12.50" x2="366.10" y2="12.50" stroke="#000" stroke-width="1.3" />
<text x="356.80" y="15.60" font-size="8.7" text-anchor="end" fill="#111" stroke="#111" stroke-width="0.3" >4</text>
<line x1="366.10" y1="272.30" x2="359.66" y2="275.74" stroke="#000" stroke-width="1.3" />
<line x1="386.25" y1="275.25" x2="379.81" y2="278.69" stroke="#000" stroke-width="1.3" />
<line x1="406.40" y1="278.20" x2="399.96" y2="281.64" stroke="#000" stroke-width="1.3" />
<line x1="406.40" y1="278.20" x2="412.93" y2="279.56" stroke="#000" stroke-width="1.3" />
<line x1="417.15" y1="272.45" x2="423.68" y2="273.81" stroke="#000" stroke-width="1.3" />
<line x1="427.90" y1="266.70" x2="434.43" y2="268.06" stroke="#000" stroke-width="1.3" />
</g>
<text x="357.60" y="286.00" font-size="8.7" text-anchor="middle" fill="#111" stroke="#111" stroke-width="0.3" >-2</text>
<text x="377.60" y="289.00" font-size="8.7" text-anchor="middle" fill="#111" stroke="#111" stroke-width="0.3" >0</text>
<text x="398.40" y="292.20" font-size="8.7" text-anchor="middle" fill="#111" stroke="#111" stroke-width="0.3" >2</text>
<text x="415.60" y="289.00" font-size="8.7" text-anchor="middle" fill="#111" stroke="#111" stroke-width="0.3" >2</text>
<text x="426.40" y="283.20" font-size="8.7" text-anchor="middle" fill="#111" stroke="#111" stroke-width="0.3" >0</text>
<text x="437.30" y="277.30" font-size="8.7" text-anchor="middle" fill="#111" stroke="#111" stroke-width="0.3" >-2</text>
<text x="378.20" y="297.80" font-size="9.4" text-anchor="middle" fill="#111" stroke="#111" stroke-width="0.12" >y (mm)</text>
<text x="439.70" y="291.20" font-size="9.4" text-anchor="middle" fill="#111" stroke="#111" stroke-width="0.12" >x (mm)</text>
<text transform="translate(340.6,142.8) rotate(-90)" font-size="9.6" text-anchor="middle" fill="#111" stroke="#111" stroke-width="0.12">z (mm)</text>
<g stroke-linecap="butt">
<line x1="477.00" y1="12.50" x2="477.00" y2="273.00" stroke="#000" stroke-width="1.5" />
<line x1="477.00" y1="272.30" x2="517.30" y2="278.20" stroke="#000" stroke-width="1.5" stroke-linecap="round"/>
<line x1="517.30" y1="278.20" x2="538.80" y2="266.70" stroke="#000" stroke-width="1.5" stroke-linecap="round"/>
<line x1="470.80" y1="251.71" x2="477.00" y2="251.71" stroke="#000" stroke-width="1.3" />
<text x="467.70" y="254.81" font-size="8.7" text-anchor="end" fill="#111" stroke="#111" stroke-width="0.3" >-18</text>
<line x1="470.80" y1="229.96" x2="477.00" y2="229.96" stroke="#000" stroke-width="1.3" />
<text x="467.70" y="233.06" font-size="8.7" text-anchor="end" fill="#111" stroke="#111" stroke-width="0.3" >-16</text>
<line x1="470.80" y1="208.21" x2="477.00" y2="208.21" stroke="#000" stroke-width="1.3" />
<text x="467.70" y="211.31" font-size="8.7" text-anchor="end" fill="#111" stroke="#111" stroke-width="0.3" >-14</text>
<line x1="470.80" y1="186.47" x2="477.00" y2="186.47" stroke="#000" stroke-width="1.3" />
<text x="467.70" y="189.57" font-size="8.7" text-anchor="end" fill="#111" stroke="#111" stroke-width="0.3" >-12</text>
<line x1="470.80" y1="164.72" x2="477.00" y2="164.72" stroke="#000" stroke-width="1.3" />
<text x="467.70" y="167.82" font-size="8.7" text-anchor="end" fill="#111" stroke="#111" stroke-width="0.3" >-10</text>
<line x1="470.80" y1="142.98" x2="477.00" y2="142.98" stroke="#000" stroke-width="1.3" />
<text x="467.70" y="146.08" font-size="8.7" text-anchor="end" fill="#111" stroke="#111" stroke-width="0.3" >-8</text>
<line x1="470.80" y1="121.23" x2="477.00" y2="121.23" stroke="#000" stroke-width="1.3" />
<text x="467.70" y="124.33" font-size="8.7" text-anchor="end" fill="#111" stroke="#111" stroke-width="0.3" >-6</text>
<line x1="470.80" y1="99.48" x2="477.00" y2="99.48" stroke="#000" stroke-width="1.3" />
<text x="467.70" y="102.58" font-size="8.7" text-anchor="end" fill="#111" stroke="#111" stroke-width="0.3" >-4</text>
<line x1="470.80" y1="77.74" x2="477.00" y2="77.74" stroke="#000" stroke-width="1.3" />
<text x="467.70" y="80.84" font-size="8.7" text-anchor="end" fill="#111" stroke="#111" stroke-width="0.3" >-2</text>
<line x1="470.80" y1="55.99" x2="477.00" y2="55.99" stroke="#000" stroke-width="1.3" />
<text x="467.70" y="59.09" font-size="8.7" text-anchor="end" fill="#111" stroke="#111" stroke-width="0.3" >0</text>
<line x1="470.80" y1="34.25" x2="477.00" y2="34.25" stroke="#000" stroke-width="1.3" />
<text x="467.70" y="37.35" font-size="8.7" text-anchor="end" fill="#111" stroke="#111" stroke-width="0.3" >2</text>
<line x1="470.80" y1="12.50" x2="477.00" y2="12.50" stroke="#000" stroke-width="1.3" />
<text x="467.70" y="15.60" font-size="8.7" text-anchor="end" fill="#111" stroke="#111" stroke-width="0.3" >4</text>
<line x1="477.00" y1="272.30" x2="470.56" y2="275.74" stroke="#000" stroke-width="1.3" />
<line x1="497.15" y1="275.25" x2="490.71" y2="278.69" stroke="#000" stroke-width="1.3" />
<line x1="517.30" y1="278.20" x2="510.86" y2="281.64" stroke="#000" stroke-width="1.3" />
<line x1="517.30" y1="278.20" x2="523.83" y2="279.56" stroke="#000" stroke-width="1.3" />
<line x1="528.05" y1="272.45" x2="534.58" y2="273.81" stroke="#000" stroke-width="1.3" />
<line x1="538.80" y1="266.70" x2="545.33" y2="268.06" stroke="#000" stroke-width="1.3" />
</g>
<text x="468.50" y="286.00" font-size="8.7" text-anchor="middle" fill="#111" stroke="#111" stroke-width="0.3" >-2</text>
<text x="488.50" y="289.00" font-size="8.7" text-anchor="middle" fill="#111" stroke="#111" stroke-width="0.3" >0</text>
<text x="509.30" y="292.20" font-size="8.7" text-anchor="middle" fill="#111" stroke="#111" stroke-width="0.3" >2</text>
<text x="526.50" y="289.00" font-size="8.7" text-anchor="middle" fill="#111" stroke="#111" stroke-width="0.3" >2</text>
<text x="537.30" y="283.20" font-size="8.7" text-anchor="middle" fill="#111" stroke="#111" stroke-width="0.3" >0</text>
<text x="548.20" y="277.30" font-size="8.7" text-anchor="middle" fill="#111" stroke="#111" stroke-width="0.3" >-2</text>
<text x="489.10" y="297.80" font-size="9.4" text-anchor="middle" fill="#111" stroke="#111" stroke-width="0.12" >y (mm)</text>
<text x="550.60" y="291.20" font-size="9.4" text-anchor="middle" fill="#111" stroke="#111" stroke-width="0.12" >x (mm)</text>
<text transform="translate(451.5,142.8) rotate(-90)" font-size="9.6" text-anchor="middle" fill="#111" stroke="#111" stroke-width="0.12">z (mm)</text>
<rect x="575" y="1" width="9.9" height="276.8" fill="url(#cb)"/>
<line x1="583.30" y1="278.00" x2="584.90" y2="278.00" stroke="#333" stroke-width="0.6" />
<text x="588.00" y="281.30" font-size="8.0" text-anchor="start" fill="#2a2a2a" stroke="#2a2a2a" stroke-width="0.15" >0</text>
<line x1="583.30" y1="234.83" x2="584.90" y2="234.83" stroke="#333" stroke-width="0.6" />
<text x="588.00" y="237.63" font-size="8.0" text-anchor="start" fill="#2a2a2a" stroke="#2a2a2a" stroke-width="0.15" >200</text>
<line x1="583.30" y1="191.67" x2="584.90" y2="191.67" stroke="#333" stroke-width="0.6" />
<text x="588.00" y="194.47" font-size="8.0" text-anchor="start" fill="#2a2a2a" stroke="#2a2a2a" stroke-width="0.15" >400</text>
<line x1="583.30" y1="148.50" x2="584.90" y2="148.50" stroke="#333" stroke-width="0.6" />
<text x="588.00" y="151.30" font-size="8.0" text-anchor="start" fill="#2a2a2a" stroke="#2a2a2a" stroke-width="0.15" >600</text>
<line x1="583.30" y1="105.33" x2="584.90" y2="105.33" stroke="#333" stroke-width="0.6" />
<text x="588.00" y="108.13" font-size="8.0" text-anchor="start" fill="#2a2a2a" stroke="#2a2a2a" stroke-width="0.15" >800</text>
<line x1="583.30" y1="62.17" x2="584.90" y2="62.17" stroke="#333" stroke-width="0.6" />
<text x="588.00" y="64.97" font-size="8.0" text-anchor="start" fill="#2a2a2a" stroke="#2a2a2a" stroke-width="0.15" >1000</text>
<line x1="583.30" y1="19.00" x2="584.90" y2="19.00" stroke="#333" stroke-width="0.6" />
<text x="588.00" y="21.80" font-size="8.0" text-anchor="start" fill="#2a2a2a" stroke="#2a2a2a" stroke-width="0.15" >1200</text>
<text transform="translate(615.2,140.5) rotate(-90)" font-size="8" text-anchor="middle" fill="#555">a.u.</text>
</svg>
</body></html>
